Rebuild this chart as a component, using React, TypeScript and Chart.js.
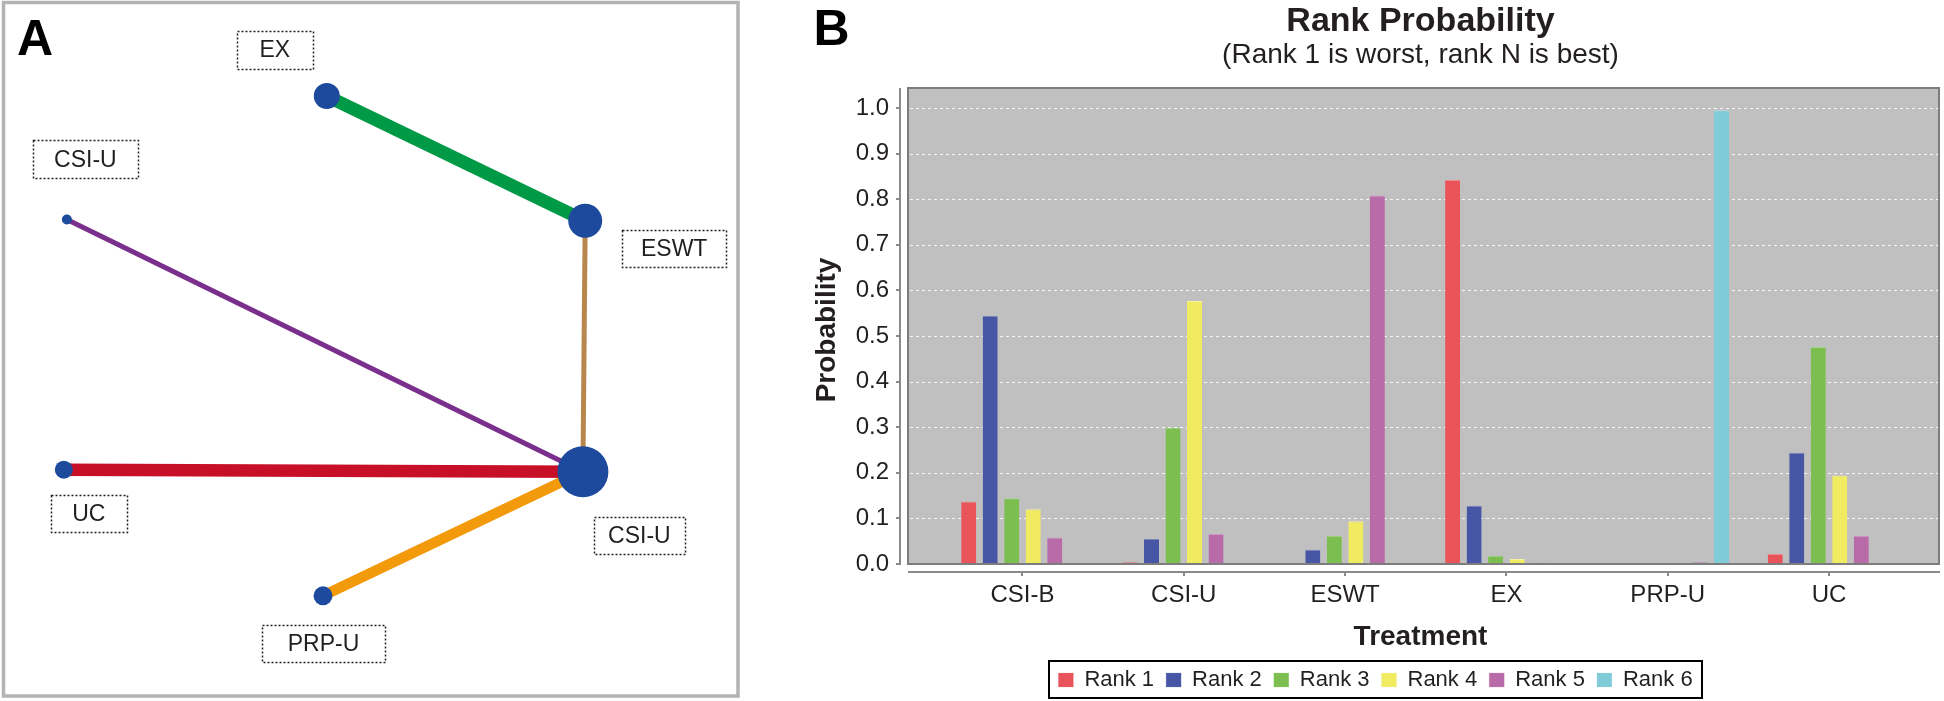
import React, { useEffect, useRef } from 'react';
import { Chart, registerables } from 'chart.js';

Chart.register(...registerables);

const FONT = '"Liberation Sans", Arial, Helvetica, sans-serif';
const TEXT = '#231f20';

// ---------------- Panel A: network data ----------------
const NODE_NAMES = ['EX', 'ESWT', 'CSI-U', 'UC', 'CSI-U', 'PRP-U'];
const NODE_X = [4.30, 7.70, 0.88, 0.84, 7.67, 4.25];
const NODE_Y = [8.63, 6.85, 6.87, 3.30, 3.27, 1.50];
const NODE_WEIGHT = [13, 17, 5, 9, 25.5, 9.5];
const EDGE_FROM = [0, 1, 2, 3, 5];
const EDGE_TO = [1, 4, 4, 4, 4];
const EDGE_WEIGHT = [13, 5, 5, 12.5, 10.5];

// Panel A styles / layout (not data)
const NODE_COLOR = '#1d4a9c';
const EDGE_COLORS = ['#009a46', '#b8874e', '#7b2f8c', '#c70f28', '#f39a0b'];
const LABEL_BOXES = [
  { dx: -52, dy: -46, w: 76, h: 38 },
  { dx: 89, dy: 27.5, w: 104, h: 37 },
  { dx: 18.5, dy: -60, w: 105, h: 38 },
  { dx: 25, dy: 43.5, w: 76, h: 37 },
  { dx: 56.5, dy: 63.5, w: 91, h: 37 },
  { dx: 0.5, dy: 47.5, w: 123, h: 37 },
];

// ---------------- Panel B: rank probability data ----------------
const CATEGORIES = ['CSI-B', 'CSI-U', 'ESWT', 'EX', 'PRP-U', 'UC'];
const RANK_LABELS = ['Rank 1', 'Rank 2', 'Rank 3', 'Rank 4', 'Rank 5', 'Rank 6'];
const RANK1 = [0.137, 0.004, 0.000, 0.842, 0.000, 0.022];
const RANK2 = [0.544, 0.055, 0.031, 0.128, 0.000, 0.244];
const RANK3 = [0.144, 0.299, 0.062, 0.018, 0.000, 0.476];
const RANK4 = [0.120, 0.577, 0.094, 0.011, 0.002, 0.194];
const RANK5 = [0.058, 0.066, 0.808, 0.003, 0.004, 0.062];
const RANK6 = [0.001, 0.000, 0.003, 0.000, 0.995, 0.001];
const Y_TICKS = [0, 0.1, 0.2, 0.3, 0.4, 0.5, 0.6, 0.7, 0.8, 0.9, 1.0];
const Y_TICK_LABELS = ['0.0', '0.1', '0.2', '0.3', '0.4', '0.5', '0.6', '0.7', '0.8', '0.9', '1.0'];

const RANK_COLORS = ['#e9545a', '#4655a4', '#7cbf50', '#f0eb60', '#b86aa9', '#80cbd8'];
const RANK_BORDERS = ['#f08a8c', '#7a84c0', '#a3d383', '#f6f29a', '#cf97c4', '#a9dde6'];

const networkPlugin = {
  id: 'networkDecor',
  afterDatasetsDraw(chart: any) {
    const { ctx, scales } = chart;
    const sx = scales.x;
    const sy = scales.y;
    ctx.save();
    ctx.font = `23px ${FONT}`;
    ctx.textAlign = 'center';
    ctx.textBaseline = 'middle';
    NODE_NAMES.forEach((name, i) => {
      const px = sx.getPixelForValue(NODE_X[i]);
      const py = sy.getPixelForValue(NODE_Y[i]);
      const b = LABEL_BOXES[i];
      const cx = px + b.dx;
      const cy = py + b.dy;
      ctx.setLineDash([2, 2]);
      ctx.lineWidth = 1.5;
      ctx.strokeStyle = TEXT;
      ctx.strokeRect(Math.round(cx - b.w / 2) + 0.5, Math.round(cy - b.h / 2) + 0.5, b.w, b.h);
      ctx.setLineDash([]);
      ctx.fillStyle = TEXT;
      ctx.fillText(name, cx, cy + 1);
    });
    ctx.restore();
  },
  afterDraw(chart: any) {
    const { ctx } = chart;
    ctx.save();
    ctx.strokeStyle = '#b3b3b3';
    ctx.lineWidth = 3.5;
    ctx.strokeRect(3.5, 2.5, 734.5, 693.5);
    ctx.fillStyle = '#000';
    ctx.font = `bold 50px ${FONT}`;
    ctx.textAlign = 'left';
    ctx.textBaseline = 'alphabetic';
    ctx.fillText('A', 17, 55);
    ctx.restore();
  },
};

const PLOT_GAP = 7;

const rankPlugin = {
  id: 'rankDecor',
  beforeDatasetsDraw(chart: any) {
    const { ctx, chartArea, scales } = chart;
    const y = scales.y;
    const left = chartArea.left + PLOT_GAP;
    const bottom = y.getPixelForValue(0);
    ctx.save();
    ctx.fillStyle = '#c0c0c0';
    ctx.fillRect(left, chartArea.top, chartArea.right - left, bottom - chartArea.top);
    ctx.strokeStyle = 'rgba(255,255,255,0.85)';
    ctx.lineWidth = 1;
    ctx.setLineDash([3, 3]);
    Y_TICKS.forEach((v) => {
      if (v === 0) return;
      const py = Math.round(y.getPixelForValue(v)) + 0.5;
      ctx.beginPath();
      ctx.moveTo(left + 2, py);
      ctx.lineTo(chartArea.right - 2, py);
      ctx.stroke();
    });
    ctx.restore();
  },
  afterDatasetsDraw(chart: any) {
    const { ctx, chartArea, scales } = chart;
    const y = scales.y;
    const left = chartArea.left + PLOT_GAP;
    const bottom = y.getPixelForValue(0);
    ctx.save();
    ctx.strokeStyle = '#7d7d7d';
    ctx.lineWidth = 2;
    ctx.strokeRect(left, chartArea.top, chartArea.right - left - 1, bottom - chartArea.top);
    ctx.strokeStyle = '#8a8a8a';
    ctx.lineWidth = 2;
    ctx.beginPath();
    ctx.moveTo(chartArea.left - 1, chartArea.top);
    ctx.lineTo(chartArea.left - 1, bottom + 1);
    ctx.stroke();
    ctx.beginPath();
    ctx.moveTo(left, chartArea.bottom);
    ctx.lineTo(chartArea.right, chartArea.bottom);
    ctx.stroke();
    ctx.restore();
  },
  afterDraw(chart: any) {
    const { ctx, legend } = chart;
    ctx.save();
    if (legend && legend.legendHitBoxes && legend.legendHitBoxes.length) {
      const boxes = legend.legendHitBoxes;
      let l = Infinity;
      let r = -Infinity;
      let t = Infinity;
      boxes.forEach((b: any) => {
        l = Math.min(l, b.left);
        r = Math.max(r, b.left + b.width);
        t = Math.min(t, b.top);
      });
      const cy = t + boxes[0].height / 2;
      ctx.strokeStyle = '#000';
      ctx.lineWidth = 2;
      ctx.strokeRect(Math.round(l - 9), Math.round(cy - 19), Math.round(r - l + 19), 37);
    }
    ctx.fillStyle = '#000';
    ctx.font = `bold 50px ${FONT}`;
    ctx.textAlign = 'left';
    ctx.textBaseline = 'alphabetic';
    ctx.fillText('B', 2.5, 45);
    ctx.restore();
  },
};

function NetworkPanel() {
  const ref = useRef<HTMLCanvasElement | null>(null);
  useEffect(() => {
    if (!ref.current) return;
    const edgeSets = EDGE_FROM.map((f, k) => ({
      label: `edge${k}`,
      data: [
        { x: NODE_X[f], y: NODE_Y[f] },
        { x: NODE_X[EDGE_TO[k]], y: NODE_Y[EDGE_TO[k]] },
      ],
      showLine: true,
      borderColor: EDGE_COLORS[k],
      backgroundColor: EDGE_COLORS[k],
      borderWidth: EDGE_WEIGHT[k],
      pointRadius: 0,
      pointHoverRadius: 0,
      order: 1,
    }));
    const nodeSet = {
      label: 'nodes',
      data: NODE_X.map((x, i) => ({ x, y: NODE_Y[i] })),
      pointRadius: NODE_WEIGHT,
      pointHoverRadius: NODE_WEIGHT,
      backgroundColor: NODE_COLOR,
      borderColor: NODE_COLOR,
      borderWidth: 0,
      showLine: false,
      order: 0,
    };
    const chart = new Chart(ref.current, {
      type: 'scatter',
      data: { datasets: [nodeSet as any, ...edgeSets] },
      options: {
        animation: false,
        responsive: false,
        events: [],
        layout: { padding: 0, autoPadding: false },
        plugins: { legend: { display: false }, tooltip: { enabled: false }, title: { display: false } },
        scales: {
          x: { type: 'linear', min: 0, max: 10, display: false },
          y: { type: 'linear', min: 0, max: 10, display: false },
        },
      },
      plugins: [networkPlugin],
    });
    return () => chart.destroy();
  }, []);
  return (
    <canvas
      ref={ref}
      width={760}
      height={701}
      style={{ position: 'absolute', left: 0, top: 0, width: 760, height: 701 }}
    />
  );
}

function RankPanel() {
  const ref = useRef<HTMLCanvasElement | null>(null);
  useEffect(() => {
    if (!ref.current) return;
    const series = [RANK1, RANK2, RANK3, RANK4, RANK5, RANK6];
    const datasets = RANK_LABELS.map((label, k) => ({
      label,
      data: CATEGORIES.map((_, i) => ({ x: i, y: series[k][i] })),
      backgroundColor: RANK_COLORS[k],
      borderColor: RANK_BORDERS[k],
      borderWidth: { top: 1, left: 0, right: 0, bottom: 0 },
      categoryPercentage: 0.8,
      barPercentage: 0.7,
    }));
    const chart = new Chart(ref.current, {
      type: 'bar',
      data: { datasets: datasets as any },
      options: {
        animation: false,
        responsive: false,
        events: [],
        layout: { padding: { top: 0, right: 4, bottom: 0, left: 0 } },
        plugins: {
          tooltip: { enabled: false },
          title: {
            display: true,
            text: 'Rank Probability',
            fullSize: false,
            color: TEXT,
            font: { family: FONT, size: 34, weight: 'bold', lineHeight: 1 },
            padding: { top: 4.5, bottom: 0 },
          },
          subtitle: {
            display: true,
            text: '(Rank 1 is worst, rank N is best)',
            fullSize: false,
            color: TEXT,
            font: { family: FONT, size: 28, weight: 'normal', lineHeight: 1 },
            padding: { top: 2.5, bottom: 19 },
          },
          legend: {
            position: 'bottom',
            labels: {
              boxWidth: 15,
              boxHeight: 14,
              padding: 12,
              color: TEXT,
              font: { family: FONT, size: 22 },
            },
          },
        },
        scales: {
          x: {
            type: 'linear',
            min: -0.753,
            max: 5.688,
            offset: false,
            afterBuildTicks: (s: any) => {
              s.ticks = CATEGORIES.map((_, i) => ({ value: i }));
            },
            afterFit: (s: any) => {
              s.height = 85;
            },
            ticks: {
              autoSkip: false,
              maxRotation: 0,
              minRotation: 0,
              padding: 7,
              color: TEXT,
              font: { family: FONT, size: 24, lineHeight: 1 },
              callback: (v: any) => CATEGORIES[Math.round(Number(v))] ?? '',
            },
            grid: { offset: false, drawOnChartArea: false, drawTicks: true, tickLength: 4, color: '#8a8a8a', lineWidth: 2 },
            border: { display: false },
            title: {
              display: true,
              text: 'Treatment',
              color: TEXT,
              font: { family: FONT, size: 28, weight: 'bold', lineHeight: 1 },
              padding: { top: 0, bottom: 6 },
            },
          },
          y: {
            type: 'linear',
            min: -0.01754,
            max: 1.0439,
            afterBuildTicks: (s: any) => {
              s.ticks = Y_TICKS.map((v) => ({ value: v }));
            },
            afterFit: (s: any) => {
              s.width = 90;
            },
            ticks: {
              padding: 7,
              color: TEXT,
              font: { family: FONT, size: 24, lineHeight: 1 },
              callback: (v: any) => {
                const idx = Y_TICKS.findIndex((t) => Math.abs(t - Number(v)) < 1e-9);
                return idx >= 0 ? Y_TICK_LABELS[idx] : '';
              },
            },
            grid: { drawOnChartArea: false, drawTicks: true, tickLength: 5, color: '#8a8a8a', lineWidth: 2 },
            border: { display: false },
            title: {
              display: true,
              text: 'Probability',
              color: TEXT,
              font: { family: FONT, size: 28, weight: 'bold', lineHeight: 1 },
              padding: { top: 2, bottom: 0 },
            },
          },
        },
      },
      plugins: [rankPlugin],
    });
    return () => chart.destroy();
  }, []);
  return (
    <canvas
      ref={ref}
      width={1133}
      height={701}
      style={{ position: 'absolute', left: 811, top: 0, width: 1133, height: 701 }}
    />
  );
}

export default function App() {
  return (
    <div style={{ position: 'absolute', left: 0, top: 0, width: 1944, height: 701, background: '#fff', overflow: 'hidden' }}>
      <NetworkPanel />
      <RankPanel />
    </div>
  );
}
